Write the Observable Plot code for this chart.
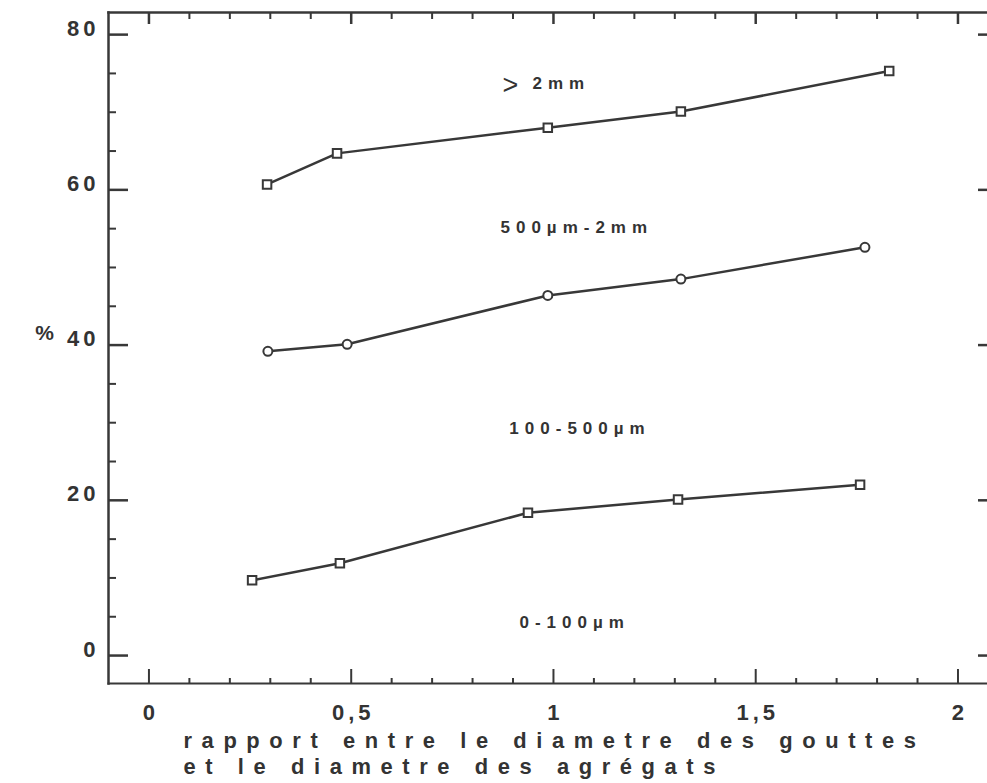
<!DOCTYPE html>
<html><head><meta charset="utf-8">
<script src="https://cdn.jsdelivr.net/npm/d3@7"></script>
<script src="https://cdn.jsdelivr.net/npm/@observablehq/plot@0.6"></script>
<style>
html,body{margin:0;padding:0;background:#fff;overflow:hidden;}
#chart svg{display:block;}
svg text{font-family:"Liberation Sans",Arial,Helvetica,sans-serif;font-weight:bold;}
svg g[font-weight="normal"] text{font-weight:normal;}
svg g[font-size="22"] text{letter-spacing:4px;}
svg g[font-size="17"] text{letter-spacing:6px;}
svg g[font-size="21.9"] text{letter-spacing:9.6px;}
</style></head><body><div id="chart"></div>
<script>
// Series (cumulative % boundaries)
const xTop = [0.292, 0.465, 0.986, 1.315, 1.83];
const yTop = [60.7, 64.7, 68.0, 70.1, 75.3];
const xMid = [0.294, 0.49, 0.986, 1.315, 1.77];
const yMid = [39.2, 40.1, 46.4, 48.5, 52.6];
const xLow = [0.255, 0.472, 0.937, 1.308, 1.758];
const yLow = [9.7, 11.9, 18.4, 20.1, 22.0];

// Region labels (class sizes)
const regionLabels = ["> 2mm", "500µm-2mm", "100-500µm", "0-100µm"];
const regionX = [0.874, 0.869, 0.891, 0.916];
const regionY = [73.7, 55.1, 29.2, 4.3];

// Ticks
const yMajorTicks = [0, 20, 40, 60, 80];
const yTickLabels = ["0", "20", "40", "60", "80"];
const yMinorTicks = [5, 10, 15, 25, 30, 35, 45, 50, 55, 65, 70, 75];
const xMajorTicks = [0, 0.5, 1, 1.5, 2];
const xTickLabels = ["0", "0,5", "1", "1,5", "2"];
const xMinorTicks = [0.1, 0.2, 0.3, 0.4, 0.6, 0.7, 0.8, 0.9, 1.1, 1.2, 1.3, 1.4, 1.6, 1.7, 1.8, 1.9];

const xTitle = ["rapport entre le diametre des gouttes", "et le diametre des agrégats"];
const yTitle = "%";

const ink = "#383838";
const toRows = (xs, ys) => xs.map((x, i) => ({x, y: ys[i]}));
const rowsTop = toRows(xTop, yTop), rowsMid = toRows(xMid, yMid), rowsLow = toRows(xLow, yLow);
const regions = regionLabels.map((label, i) => ({label, x: regionX[i], y: regionY[i]}));
const hasPrefix = d => d.label.startsWith(">");

const chart = Plot.plot({
  width: 987,
  height: 783,
  marginLeft: 108,
  marginRight: 0,
  marginTop: 12,
  marginBottom: 100,
  x: {domain: [-0.1, 2.073]},
  y: {domain: [-3.6, 82.85]},
  marks: [
    Plot.frame({anchor: "left", stroke: ink, strokeWidth: 2.5}),
    Plot.frame({anchor: "top", stroke: ink, strokeWidth: 2.5}),
    Plot.frame({anchor: "bottom", stroke: ink, strokeWidth: 2}),
    // left ticks
    Plot.axisY(yMajorTicks, {anchor: "left", tickSize: -20, tickFormat: () => "", label: null, stroke: ink, strokeWidth: 2.5}),
    Plot.axisY(yMinorTicks, {anchor: "left", tickSize: -8, tickFormat: () => "", label: null, stroke: ink, strokeWidth: 2}),
    Plot.axisY(yMajorTicks, {anchor: "left", tickSize: 0, tickPadding: 9, dy: -6, label: null,
      tickFormat: d => yTickLabels[yMajorTicks.indexOf(d)], fontSize: 22, fill: "#333"}),
    // right ticks
    Plot.axisY(yMajorTicks, {anchor: "right", tickSize: -10, tickFormat: () => "", label: null, stroke: ink, strokeWidth: 2.5}),
    // bottom ticks
    Plot.axisX(xMajorTicks, {anchor: "bottom", tickSize: -14, tickFormat: () => "", label: null, stroke: ink, strokeWidth: 2}),
    Plot.axisX(xMinorTicks, {anchor: "bottom", tickSize: -5, tickFormat: () => "", label: null, stroke: ink, strokeWidth: 2}),
    Plot.axisX(xMajorTicks, {anchor: "bottom", tickSize: 0, tickPadding: 21, dx: 2, label: null,
      tickFormat: d => xTickLabels[xMajorTicks.indexOf(d)], fontSize: 22, fill: "#333"}),
    // top ticks
    Plot.axisX(xMajorTicks, {anchor: "top", tickSize: -11, tickFormat: () => "", label: null, stroke: ink, strokeWidth: 2.5}),
    Plot.axisX(xMinorTicks, {anchor: "top", tickSize: -6, tickFormat: () => "", label: null, stroke: ink, strokeWidth: 2}),
    // series
    Plot.line(rowsTop, {x: "x", y: "y", stroke: ink, strokeWidth: 2.5}),
    Plot.line(rowsMid, {x: "x", y: "y", stroke: ink, strokeWidth: 2.5}),
    Plot.line(rowsLow, {x: "x", y: "y", stroke: ink, strokeWidth: 2.5}),
    Plot.dot(rowsTop, {x: "x", y: "y", symbol: "square", r: 4.8, stroke: ink, strokeWidth: 2, fill: "white"}),
    Plot.dot(rowsMid, {x: "x", y: "y", symbol: "circle", r: 4.5, stroke: ink, strokeWidth: 2, fill: "white"}),
    Plot.dot(rowsLow, {x: "x", y: "y", symbol: "square", r: 4.8, stroke: ink, strokeWidth: 2, fill: "white"}),
    // region labels (the ">" drawn thin and large, as in the original)
    Plot.text(regions.filter(hasPrefix), {x: "x", y: "y", text: d => d.label.split(" ")[0],
      textAnchor: "start", fontSize: 27, fontWeight: "normal", dy: 2, fill: "#333"}),
    Plot.text(regions.filter(hasPrefix), {x: "x", y: "y", text: d => d.label.split(" ")[1],
      dx: 30, textAnchor: "start", fontSize: 17, fill: "#333"}),
    Plot.text(regions.filter(d => !hasPrefix(d)), {x: "x", y: "y", text: "label",
      textAnchor: "start", fontSize: 17, fill: "#333"}),
    // axis titles
    Plot.text([yTitle], {frameAnchor: "left", dx: -64, dy: -15, text: d => d, textAnchor: "middle",
      fontSize: 21, fill: "#333"}),
    Plot.text([xTitle.join("\n")], {frameAnchor: "bottom-left", dx: 75, dy: 47, text: d => d,
      textAnchor: "start", lineAnchor: "top", lineHeight: 1.15, fontSize: 21.9, fill: "#333"})
  ]
});
document.getElementById("chart").appendChild(chart);
</script>
</body></html>
